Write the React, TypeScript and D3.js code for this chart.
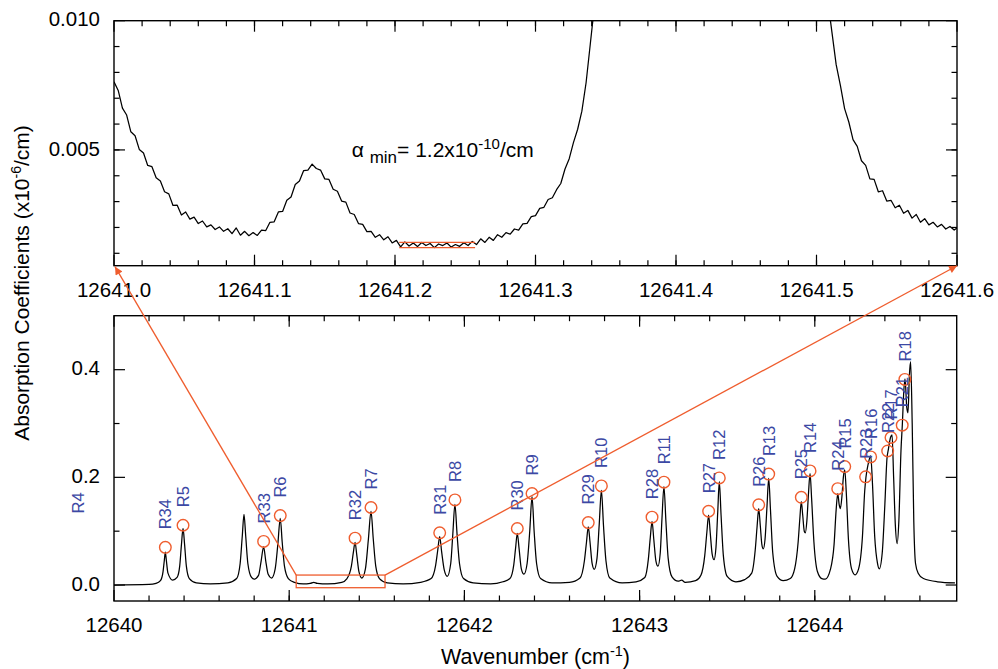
import { useEffect, useRef } from "react";
import * as d3 from "d3";

// zoomed trace 12641.0 - 12641.6 cm-1, absorption in x10^-6/cm
const zoomTrace: [number, number][] = [
  [12641.000, 7.64e-3], [12641.003, 7.30e-3], [12641.006, 6.62e-3], [12641.009, 6.35e-3],
  [12641.012, 5.70e-3], [12641.015, 5.55e-3], [12641.018, 5.02e-3], [12641.021, 4.88e-3],
  [12641.024, 4.40e-3], [12641.027, 4.35e-3], [12641.030, 3.92e-3], [12641.033, 3.80e-3],
  [12641.036, 3.38e-3], [12641.039, 3.30e-3], [12641.042, 2.85e-3], [12641.045, 2.86e-3],
  [12641.048, 2.48e-3], [12641.051, 2.60e-3], [12641.054, 2.32e-3], [12641.057, 2.40e-3],
  [12641.060, 2.15e-3], [12641.063, 2.25e-3], [12641.066, 2.02e-3], [12641.069, 2.10e-3],
  [12641.072, 1.92e-3], [12641.075, 2.02e-3], [12641.078, 1.85e-3], [12641.081, 1.95e-3],
  [12641.084, 1.76e-3], [12641.087, 1.98e-3], [12641.090, 1.70e-3], [12641.093, 1.85e-3],
  [12641.096, 1.68e-3], [12641.099, 1.80e-3], [12641.102, 1.69e-3], [12641.105, 1.90e-3],
  [12641.108, 1.88e-3], [12641.111, 2.20e-3], [12641.114, 2.22e-3], [12641.117, 2.60e-3],
  [12641.120, 2.62e-3], [12641.123, 3.05e-3], [12641.126, 3.18e-3], [12641.129, 3.66e-3],
  [12641.132, 3.80e-3], [12641.135, 4.20e-3], [12641.138, 4.22e-3], [12641.141, 4.45e-3],
  [12641.144, 4.28e-3], [12641.147, 4.22e-3], [12641.150, 3.88e-3], [12641.153, 3.86e-3],
  [12641.156, 3.48e-3], [12641.159, 3.40e-3], [12641.162, 3.02e-3], [12641.165, 2.98e-3],
  [12641.168, 2.56e-3], [12641.171, 2.50e-3], [12641.174, 2.15e-3], [12641.177, 2.12e-3],
  [12641.180, 1.84e-3], [12641.183, 1.85e-3], [12641.186, 1.62e-3], [12641.189, 1.72e-3],
  [12641.192, 1.52e-3], [12641.195, 1.64e-3], [12641.198, 1.40e-3], [12641.201, 1.50e-3],
  [12641.204, 1.25e-3], [12641.207, 1.44e-3], [12641.210, 1.28e-3], [12641.213, 1.40e-3],
  [12641.216, 1.26e-3], [12641.219, 1.42e-3], [12641.222, 1.30e-3], [12641.225, 1.38e-3],
  [12641.228, 1.22e-3], [12641.231, 1.36e-3], [12641.234, 1.30e-3], [12641.237, 1.40e-3],
  [12641.240, 1.24e-3], [12641.243, 1.34e-3], [12641.246, 1.27e-3], [12641.249, 1.41e-3],
  [12641.252, 1.30e-3], [12641.255, 1.46e-3], [12641.258, 1.34e-3], [12641.261, 1.56e-3],
  [12641.264, 1.42e-3], [12641.267, 1.62e-3], [12641.270, 1.50e-3], [12641.273, 1.72e-3],
  [12641.276, 1.62e-3], [12641.279, 1.80e-3], [12641.282, 1.74e-3], [12641.285, 1.94e-3],
  [12641.288, 1.90e-3], [12641.291, 2.14e-3], [12641.294, 2.16e-3], [12641.297, 2.42e-3],
  [12641.300, 2.46e-3], [12641.303, 2.74e-3], [12641.306, 2.78e-3], [12641.309, 3.08e-3],
  [12641.312, 3.15e-3], [12641.315, 3.46e-3], [12641.318, 3.70e-3], [12641.321, 4.26e-3],
  [12641.324, 4.66e-3], [12641.327, 5.28e-3], [12641.330, 5.80e-3], [12641.333, 6.50e-3],
  [12641.336, 7.60e-3], [12641.339, 9.10e-3], [12641.342, 10.6e-3], [12641.345, 12.0e-3],
  [12641.505, 12.0e-3], [12641.508, 10.8e-3], [12641.511, 9.55e-3], [12641.514, 8.30e-3],
  [12641.517, 7.50e-3], [12641.520, 6.60e-3], [12641.523, 6.08e-3], [12641.526, 5.40e-3],
  [12641.529, 5.14e-3], [12641.532, 4.58e-3], [12641.535, 4.40e-3], [12641.538, 3.88e-3],
  [12641.541, 3.86e-3], [12641.544, 3.38e-3], [12641.547, 3.42e-3], [12641.550, 3.02e-3],
  [12641.553, 3.05e-3], [12641.556, 2.76e-3], [12641.559, 2.86e-3], [12641.562, 2.55e-3],
  [12641.565, 2.66e-3], [12641.568, 2.36e-3], [12641.571, 2.50e-3], [12641.574, 2.20e-3],
  [12641.577, 2.34e-3], [12641.580, 2.10e-3], [12641.583, 2.20e-3], [12641.586, 2.02e-3],
  [12641.589, 2.12e-3], [12641.592, 1.94e-3], [12641.595, 2.04e-3], [12641.598, 1.90e-3],
  [12641.600, 1.98e-3],
];

// full spectrum 12640 - 12644.8 cm-1
const spectrum: [number, number][] = [
  [12640.00, 0.000], [12640.20, 0.001], [12640.24, 0.003], [12640.265, 0.008], [12640.280, 0.025],
  [12640.287, 0.045], [12640.293, 0.061], [12640.299, 0.045], [12640.308, 0.022], [12640.335, 0.009],
  [12640.360, 0.014], [12640.375, 0.035], [12640.385, 0.075], [12640.394, 0.105], [12640.403, 0.075],
  [12640.413, 0.035], [12640.430, 0.012], [12640.470, 0.004], [12640.550, 0.002], [12640.650, 0.004],
  [12640.700, 0.012], [12640.720, 0.040], [12640.732, 0.090], [12640.742, 0.131], [12640.752, 0.090],
  [12640.764, 0.040], [12640.785, 0.014], [12640.800, 0.011], [12640.825, 0.018], [12640.840, 0.045],
  [12640.854, 0.071], [12640.866, 0.045], [12640.880, 0.020], [12640.900, 0.013], [12640.920, 0.030],
  [12640.935, 0.075], [12640.949, 0.124], [12640.960, 0.080], [12640.973, 0.035], [12640.995, 0.012],
  [12641.03, 0.005], [12641.08, 0.002], [12641.12, 0.003], [12641.14, 0.005], [12641.16, 0.003],
  [12641.22, 0.002], [12641.30, 0.005], [12641.330, 0.012], [12641.355, 0.035], [12641.366, 0.060],
  [12641.376, 0.079], [12641.386, 0.055], [12641.398, 0.025], [12641.415, 0.013], [12641.435, 0.030],
  [12641.452, 0.085], [12641.467, 0.137], [12641.480, 0.085], [12641.494, 0.035], [12641.515, 0.012],
  [12641.56, 0.004], [12641.65, 0.002], [12641.75, 0.005], [12641.810, 0.012], [12641.835, 0.035],
  [12641.848, 0.065], [12641.859, 0.090], [12641.870, 0.062], [12641.885, 0.028], [12641.902, 0.016],
  [12641.922, 0.040], [12641.934, 0.095], [12641.946, 0.150], [12641.958, 0.095], [12641.972, 0.040],
  [12641.995, 0.012], [12642.05, 0.004], [12642.15, 0.002], [12642.22, 0.006], [12642.260, 0.012],
  [12642.282, 0.038], [12642.292, 0.068], [12642.302, 0.096], [12642.312, 0.068], [12642.325, 0.030],
  [12642.340, 0.020], [12642.358, 0.040], [12642.373, 0.100], [12642.386, 0.164], [12642.398, 0.100],
  [12642.412, 0.040], [12642.435, 0.012], [12642.50, 0.004], [12642.60, 0.005], [12642.660, 0.013],
  [12642.685, 0.045], [12642.697, 0.080], [12642.707, 0.108], [12642.717, 0.080], [12642.729, 0.040],
  [12642.741, 0.029], [12642.757, 0.050], [12642.770, 0.115], [12642.782, 0.176], [12642.794, 0.110],
  [12642.808, 0.045], [12642.830, 0.013], [12642.90, 0.004], [12642.98, 0.006], [12643.030, 0.014],
  [12643.050, 0.048], [12643.061, 0.088], [12643.071, 0.118], [12643.081, 0.085], [12643.093, 0.045],
  [12643.105, 0.035], [12643.118, 0.060], [12643.128, 0.125], [12643.139, 0.183], [12643.150, 0.120],
  [12643.163, 0.050], [12643.185, 0.015], [12643.22, 0.007], [12643.24, 0.009], [12643.26, 0.005],
  [12643.32, 0.008], [12643.350, 0.018], [12643.372, 0.055], [12643.384, 0.098], [12643.394, 0.130],
  [12643.403, 0.098], [12643.414, 0.058], [12643.425, 0.047], [12643.436, 0.070], [12643.446, 0.135],
  [12643.455, 0.192], [12643.465, 0.130], [12643.478, 0.055], [12643.500, 0.016], [12643.55, 0.006],
  [12643.60, 0.010], [12643.640, 0.022], [12643.660, 0.065], [12643.671, 0.110], [12643.680, 0.142],
  [12643.689, 0.110], [12643.698, 0.075], [12643.706, 0.067], [12643.716, 0.085], [12643.727, 0.145],
  [12643.737, 0.198], [12643.747, 0.140], [12643.760, 0.060], [12643.785, 0.016], [12643.82, 0.008],
  [12643.86, 0.012], [12643.885, 0.030], [12643.905, 0.080], [12643.915, 0.125], [12643.923, 0.155],
  [12643.931, 0.130], [12643.940, 0.100], [12643.946, 0.097], [12643.955, 0.120], [12643.964, 0.170],
  [12643.973, 0.207], [12643.982, 0.160], [12643.995, 0.080], [12644.015, 0.025], [12644.04, 0.012],
  [12644.06, 0.011], [12644.09, 0.030], [12644.110, 0.075], [12644.122, 0.140], [12644.131, 0.170],
  [12644.139, 0.150], [12644.146, 0.142], [12644.155, 0.165], [12644.163, 0.200], [12644.171, 0.214],
  [12644.180, 0.170], [12644.192, 0.085], [12644.210, 0.030], [12644.230, 0.019], [12644.250, 0.030],
  [12644.272, 0.090], [12644.285, 0.175], [12644.292, 0.200], [12644.305, 0.225], [12644.319, 0.240],
  [12644.329, 0.190], [12644.342, 0.090], [12644.358, 0.040], [12644.368, 0.030], [12644.385, 0.060],
  [12644.400, 0.150], [12644.412, 0.235], [12644.420, 0.252], [12644.433, 0.275], [12644.441, 0.279],
  [12644.450, 0.200], [12644.460, 0.110], [12644.470, 0.077], [12644.480, 0.120], [12644.492, 0.250],
  [12644.500, 0.300], [12644.508, 0.360], [12644.515, 0.383], [12644.525, 0.330], [12644.532, 0.320],
  [12644.540, 0.390], [12644.547, 0.415], [12644.556, 0.300], [12644.565, 0.120], [12644.575, 0.040],
  [12644.59, 0.022], [12644.62, 0.012], [12644.70, 0.006], [12644.80, 0.004],
];

// assigned lines (marked by circles)
const lineNames = ["R34", "R5", "R33", "R6", "R32", "R7", "R31", "R8", "R30", "R9", "R29", "R10",
  "R28", "R11", "R27", "R12", "R26", "R13", "R25", "R14", "R24", "R15", "R23", "R16", "R22", "R17", "R21", "R18"];
const lineWn = [12640.293, 12640.394, 12640.854, 12640.949, 12641.376, 12641.467, 12641.859, 12641.946,
  12642.302, 12642.386, 12642.707, 12642.782, 12643.071, 12643.139, 12643.394, 12643.455, 12643.680, 12643.737,
  12643.923, 12643.973, 12644.131, 12644.171, 12644.290, 12644.319, 12644.416, 12644.435, 12644.499, 12644.514];
const lineAbs = [0.070, 0.111, 0.081, 0.129, 0.087, 0.144, 0.097, 0.158, 0.105, 0.170, 0.116, 0.184,
  0.126, 0.191, 0.137, 0.199, 0.149, 0.206, 0.163, 0.212, 0.179, 0.220, 0.201, 0.238, 0.249, 0.274, 0.297, 0.382];

// R4 lies below the plotted range, its label sits left of the axis
const outsideName = "R4";
const outsideWn = 12639.796;
const outsideAbs = 0.133;

const topXTicks = [12641.0, 12641.1, 12641.2, 12641.3, 12641.4, 12641.5, 12641.6];
const topYTicks = [0.005, 0.010];
const botXTicks = [12640, 12641, 12642, 12643, 12644];
const botYTicks = [0.0, 0.2, 0.4];

const noiseFrom = 12641.203, noiseTo = 12641.257, noiseLevels = [0.00122, 0.00142];
const boxFrom = 12641.04, boxTo = 12641.547, boxLo = -0.005, boxHi = 0.0185;

const FONT = "'Liberation Sans', Arial, Helvetica, sans-serif";
const ORANGE = "#ef5d2e";
const BLUE = "#3c48a4";

const App = () => {
  const svgRef = useRef(null);

  useEffect(() => {
    const svg = d3.select(svgRef.current);
    svg.selectAll("*").remove();
    svg.attr("font-family", FONT);

    const tp = { l: 114, r: 957, t: 20.7, b: 265.7 };
    const bp = { l: 114, r: 956.7, t: 315.7, b: 601 };

    const xT = d3.scaleLinear().domain([12641.0, 12641.6]).range([tp.l, tp.r]);
    const yT = d3.scaleLinear().domain([0.00052, 0.010]).range([tp.b, tp.t]);
    const xB = d3.scaleLinear().domain([12640, 12644.81]).range([bp.l, bp.r]);
    const yB = d3.scaleLinear().domain([-0.0297, 0.5003]).range([bp.b, bp.t]);

    const defs = svg.append("defs");
    defs.append("clipPath").attr("id", "clipT").append("rect")
      .attr("x", tp.l).attr("y", tp.t).attr("width", tp.r - tp.l).attr("height", tp.b - tp.t);
    defs.append("clipPath").attr("id", "clipB").append("rect")
      .attr("x", bp.l).attr("y", bp.t).attr("width", bp.r - bp.l).attr("height", bp.b - bp.t);
    defs.append("marker").attr("id", "arrow").attr("viewBox", "0 0 10 10")
      .attr("refX", 10).attr("refY", 5).attr("markerWidth", 12).attr("markerHeight", 8)
      .attr("markerUnits", "userSpaceOnUse").attr("orient", "auto")
      .append("path").attr("d", "M0,0 L10,5 L0,10 z").attr("fill", ORANGE);

    const frame = (p, x, y, xMaj, xMin, yMaj, yMin, fx, fy) => {
      const g = svg.append("g").attr("stroke", "#000").attr("stroke-width", 1.2);
      xMin.forEach(v => {
        g.append("line").attr("x1", x(v)).attr("x2", x(v)).attr("y1", p.b).attr("y2", p.b - 5.5);
        g.append("line").attr("x1", x(v)).attr("x2", x(v)).attr("y1", p.t).attr("y2", p.t + 5.5);
      });
      xMaj.forEach(v => {
        g.append("line").attr("x1", x(v)).attr("x2", x(v)).attr("y1", p.b).attr("y2", p.b - 11);
        g.append("line").attr("x1", x(v)).attr("x2", x(v)).attr("y1", p.t).attr("y2", p.t + 11);
      });
      yMin.forEach(v => {
        g.append("line").attr("y1", y(v)).attr("y2", y(v)).attr("x1", p.l).attr("x2", p.l + 5.5);
        g.append("line").attr("y1", y(v)).attr("y2", y(v)).attr("x1", p.r).attr("x2", p.r - 5.5);
      });
      yMaj.forEach(v => {
        g.append("line").attr("y1", y(v)).attr("y2", y(v)).attr("x1", p.l).attr("x2", p.l + 11);
        g.append("line").attr("y1", y(v)).attr("y2", y(v)).attr("x1", p.r).attr("x2", p.r - 11);
      });
      g.append("rect").attr("x", p.l).attr("y", p.t).attr("width", p.r - p.l).attr("height", p.b - p.t)
        .attr("fill", "none").attr("stroke-width", 1.4);

      svg.append("g").selectAll("text").data(xMaj).join("text")
        .attr("x", d => x(d)).attr("y", p.b + 31).attr("text-anchor", "middle")
        .attr("font-size", 20.5).text(fx);
      svg.append("g").selectAll("text").data(yMaj).join("text")
        .attr("x", p.l - 14).attr("y", d => y(d)).attr("dy", "0.28em").attr("text-anchor", "end")
        .attr("font-size", 20.5).text(fy);
    };

    frame(tp, xT, yT, topXTicks, d3.range(12641.02, 12641.6, 0.02), topYTicks,
      d3.range(0.001, 0.0095, 0.001), d3.format(".1f"), d3.format(".3f"));
    frame(bp, xB, yB, botXTicks, d3.range(12640.2, 12644.8, 0.2), botYTicks,
      [0.1, 0.3], d3.format("d"), d3.format(".1f"));

    // top trace
    svg.append("path").datum(zoomTrace).attr("clip-path", "url(#clipT)")
      .attr("fill", "none").attr("stroke", "#000").attr("stroke-width", 1.25).attr("stroke-linejoin", "round")
      .attr("d", d3.line().x(d => xT(d[0])).y(d => yT(d[1])));

    noiseLevels.forEach(v => {
      svg.append("line").attr("x1", xT(noiseFrom)).attr("x2", xT(noiseTo)).attr("y1", yT(v)).attr("y2", yT(v))
        .attr("stroke", ORANGE).attr("stroke-width", 1.3);
    });

    const ann = svg.append("text").attr("x", 351.7).attr("y", 157.3).attr("font-size", 21);
    ann.append("tspan").text("\u03b1 ");
    ann.append("tspan").attr("font-size", 17).attr("dy", 6).text("min");
    ann.append("tspan").attr("dy", -6).text("= 1.2x10");
    ann.append("tspan").attr("font-size", 15).attr("dy", -8).text("-10");
    ann.append("tspan").attr("dy", 8).text("/cm");

    // bottom spectrum
    svg.append("path").datum(spectrum).attr("clip-path", "url(#clipB)")
      .attr("fill", "none").attr("stroke", "#000").attr("stroke-width", 1.25)
      .attr("d", d3.line().x(d => xB(d[0])).y(d => yB(d[1])).curve(d3.curveMonotoneX));

    const lines = lineNames.map((n, i) => ({ n, wn: lineWn[i], a: lineAbs[i] }));
    svg.append("g").selectAll("circle").data(lines).join("circle")
      .attr("cx", d => xB(d.wn)).attr("cy", d => yB(d.a)).attr("r", 5.8)
      .attr("fill", "none").attr("stroke", ORANGE).attr("stroke-width", 1.4);
    svg.append("g").selectAll("text").data(lines).join("text")
      .attr("transform", d => `translate(${xB(d.wn)},${yB(d.a) - 18}) rotate(-90)`)
      .attr("dy", "0.36em").attr("font-size", 16.5).attr("fill", BLUE).text(d => d.n);
    svg.append("text")
      .attr("transform", `translate(${xB(outsideWn)},${yB(outsideAbs)}) rotate(-90)`)
      .attr("dy", "0.36em").attr("font-size", 16.5).attr("fill", BLUE).text(outsideName);

    // zoom box and connectors
    const o = svg.append("g").attr("stroke", ORANGE).attr("fill", "none").attr("stroke-width", 1.3);
    o.append("rect").attr("x", xB(boxFrom)).attr("y", yB(boxHi))
      .attr("width", xB(boxTo) - xB(boxFrom)).attr("height", yB(boxLo) - yB(boxHi));
    o.append("line").attr("x1", xB(boxFrom)).attr("y1", yB(boxHi)).attr("x2", xT(12641.0) + 1).attr("y2", tp.b + 1)
      .attr("marker-end", "url(#arrow)");
    o.append("line").attr("x1", xB(boxTo)).attr("y1", yB(boxHi)).attr("x2", xT(12641.6)).attr("y2", tp.b)
      .attr("marker-end", "url(#arrow)");

    // axis titles
    const yt = svg.append("text").attr("transform", "translate(29,283) rotate(-90)")
      .attr("text-anchor", "middle").attr("font-size", 21);
    yt.append("tspan").text("Absorption Coefficients (x10");
    yt.append("tspan").attr("font-size", 14).attr("dy", -8).text("-6");
    yt.append("tspan").attr("dy", 8).text("/cm)");

    const xt = svg.append("text").attr("x", 535.5).attr("y", 664)
      .attr("text-anchor", "middle").attr("font-size", 21.5);
    xt.append("tspan").text("Wavenumber (cm");
    xt.append("tspan").attr("font-size", 14.5).attr("dy", -8).text("-1");
    xt.append("tspan").attr("dy", 8).text(")");
  }, []);

  return (
    <svg ref={svgRef} width={998} height={669}
      style={{ position: "absolute", left: 0, top: 0, background: "#fff" }} />
  );
};

export default App;
